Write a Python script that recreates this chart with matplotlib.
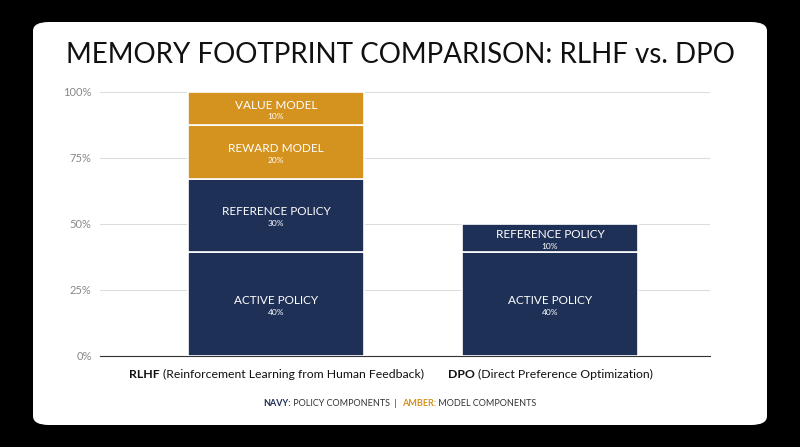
import matplotlib.pyplot as plt
from matplotlib.patches import FancyBboxPatch

plt.rcParams['font.family'] = ['Lato', 'DejaVu Sans']

# data
methods = ['RLHF', 'DPO']
method_desc = ['(Reinforcement Learning from Human Feedback)', '(Direct Preference Optimization)']
segments = {
    'RLHF': [('ACTIVE POLICY', '40%', 39.5, 'navy'),
             ('REFERENCE POLICY', '30%', 27.5, 'navy'),
             ('REWARD MODEL', '20%', 20.5, 'amber'),
             ('VALUE MODEL', '10%', 12.5, 'amber')],
    'DPO': [('ACTIVE POLICY', '40%', 39.5, 'navy'),
            ('REFERENCE POLICY', '10%', 10.5, 'navy')],
}
yticks = [0, 25, 50, 75, 100]
colors = {'navy': '#1f3057', 'amber': '#d4921e'}

fig = plt.figure(figsize=(8, 4.47), dpi=100, facecolor='black')
card = FancyBboxPatch((33 / 800, 22 / 447), 734 / 800, 403 / 447, transform=fig.transFigure,
                      boxstyle='round,pad=0,rounding_size=0.02', facecolor='white', edgecolor='none',
                      zorder=-10)
fig.patches.append(card)

fig.text(0.5, 1 - 55 / 447, 'MEMORY FOOTPRINT COMPARISON: RLHF vs. DPO', ha='center', va='center',
         fontsize=20, color='#111111')

ax = fig.add_axes([100 / 800, 1 - 356 / 447, 610 / 800, 264 / 447])
ax.set_facecolor('none')
xpos = [176 / 610, 450 / 610]
width = 176 / 610
for x, m in zip(xpos, methods):
    bottom = 0
    for name, pct, h, c in segments[m]:
        ax.bar(x, h, width, bottom=bottom, color=colors[c], edgecolor='white', linewidth=1.2, zorder=3)
        mid = bottom + h / 2
        ax.text(x, mid + 1.3, name, ha='center', va='center', color='white', fontsize=8.5, zorder=4)
        ax.text(x, mid - 3.2, pct, ha='center', va='center', color='white', fontsize=6, zorder=4)
        bottom += h

ax.set_xlim(0, 1)
ax.set_ylim(0, 100)
ax.set_yticks(yticks)
ax.set_yticklabels([f'{t}%' for t in yticks], color='#888888', fontsize=8)
ax.set_xticks([])
ax.grid(axis='y', color='#dddddd', linewidth=0.8, zorder=0)
for s in ['top', 'right', 'left']:
    ax.spines[s].set_visible(False)
ax.spines['bottom'].set_color('#333333')
ax.tick_params(axis='y', length=0, pad=6)

# category labels: bold abbreviation + regular description
fs = 8.8
fig.canvas.draw()
r = fig.canvas.get_renderer()
for x, m, d in zip(xpos, methods, method_desc):
    full = m + ' ' + d
    probe = ax.text(x, -7, full, ha='center', va='center', fontsize=fs, transform=ax.get_xaxis_transform())
    bb = probe.get_window_extent(r)
    probe.remove()
    t1 = fig.text(bb.x0 / fig.bbox.width, 1 - 374 / 447, m, fontweight='bold', fontsize=fs,
                  va='center', ha='left', color='#111111')
    b1 = t1.get_window_extent(r)
    fig.text(b1.x1 / fig.bbox.width + 0.004, 1 - 374 / 447, d, fontsize=fs, va='center', ha='left',
             color='#111111')

# legend line
parts = [('NAVY:', colors['navy'], 'bold'), (' POLICY COMPONENTS  |  ', '#333333', 'normal'),
         ('AMBER:', colors['amber'], 'bold'), (' MODEL COMPONENTS', '#333333', 'normal')]
widths = []
for s, c, w in parts:
    t = fig.text(0, 0, s, fontsize=6.5, fontweight=w)
    widths.append(t.get_window_extent(r).width)
    t.remove()
xcur = (fig.bbox.width - sum(widths)) / 2
for (s, c, w), wd in zip(parts, widths):
    fig.text(xcur / fig.bbox.width, 1 - 403 / 447, s, fontsize=6.5, fontweight=w, color=c,
             va='center', ha='left')
    xcur += wd

fig.savefig('out.png', dpi=100, facecolor='black')
